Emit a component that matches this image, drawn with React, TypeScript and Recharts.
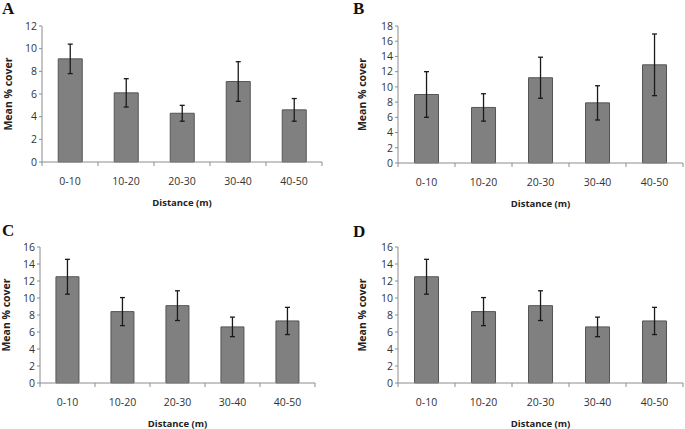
import React from 'react';
import { BarChart, Bar, XAxis, YAxis, ErrorBar, Label } from 'recharts';

const distances = ['0-10', '10-20', '20-30', '30-40', '40-50'];

const meanA = [9.1, 6.1, 4.3, 7.1, 4.6];
const errA = [1.3, 1.25, 0.7, 1.75, 1.0];
const ticksA = [0, 2, 4, 6, 8, 10, 12];

const meanB = [9.0, 7.3, 11.2, 7.9, 12.9];
const errB = [3.0, 1.8, 2.7, 2.25, 4.05];
const ticksB = [0, 2, 4, 6, 8, 10, 12, 14, 16, 18];

const meanC = [12.5, 8.4, 9.1, 6.6, 7.3];
const errC = [2.05, 1.65, 1.75, 1.15, 1.6];
const ticksC = [0, 2, 4, 6, 8, 10, 12, 14, 16];

const meanD = [12.5, 8.4, 9.1, 6.6, 7.3];
const errD = [2.05, 1.65, 1.75, 1.15, 1.6];
const ticksD = [0, 2, 4, 6, 8, 10, 12, 14, 16];

const AXIS = '#8c8c8c';
const FONT = '"Open Sans", sans-serif';

interface PanelProps {
    letter: string;
    means: number[];
    errs: number[];
    ticks: number[];
    left: number;
    top: number;
    width: number;
    height: number;
    plotLeft: number;
    plotRight: number;
    plotTop: number;
    plotBottom: number;
    yLabelX: number;
    letterX: number;
    letterY: number;
}

const Panel: React.FC<PanelProps> = (p) => {
    const data = distances.map((d, i) => ({ name: d, value: p.means[i], err: p.errs[i] }));
    const step = (p.plotRight - p.plotLeft) / distances.length;

    // Excel-style category axis: tick marks on the category boundaries
    const CatTick = (props: any) => {
        const { x, y, payload, index } = props;
        return (
            <g>
                <line x1={x - step / 2} y1={y - 8} x2={x - step / 2} y2={y - 4} stroke={AXIS} />
                {index === distances.length - 1 && (
                    <line x1={x + step / 2} y1={y - 8} x2={x + step / 2} y2={y - 4} stroke={AXIS} />
                )}
                <text x={x} y={y + 14.5} textAnchor="middle" fontSize={10.5} fontFamily={FONT} fill="#333">
                    {payload.value}
                </text>
            </g>
        );
    };

    return (
        <div style={{ position: 'absolute', left: p.left, top: p.top, width: p.width, height: p.height }}>
            <div
                style={{
                    position: 'absolute',
                    left: p.letterX,
                    top: p.letterY,
                    fontFamily: '"Liberation Serif", serif',
                    fontWeight: 'bold',
                    fontSize: 17,
                    lineHeight: '17px',
                    color: '#111',
                }}
            >
                {p.letter}
            </div>
            <BarChart
                width={p.width}
                height={p.height}
                data={data}
                barCategoryGap="29%"
                margin={{ top: p.plotTop, right: p.width - p.plotRight, left: 0, bottom: 0 }}
            >
                <XAxis
                    dataKey="name"
                    height={p.height - p.plotBottom}
                    stroke={AXIS}
                    tickLine={false}
                    tickSize={0}
                    tickMargin={8}
                    tick={<CatTick />}
                    interval={0}
                >
                    <Label
                        value="Distance (m)"
                        position="insideBottom"
                        offset={p.height - p.plotBottom - 44}
                        style={{ fontFamily: FONT, fontWeight: 'bold', fontSize: 9.5, fill: '#222' }}
                    />
                </XAxis>
                <YAxis
                    width={p.plotLeft}
                    domain={[0, p.ticks[p.ticks.length - 1]]}
                    ticks={p.ticks}
                    interval={0}
                    stroke={AXIS}
                    tickSize={3}
                    tickMargin={2}
                    tick={{ fontSize: 10.5, fontFamily: FONT, fill: '#333' }}
                >
                    <Label
                        value="Mean % cover"
                        angle={-90}
                        position="insideLeft"
                        offset={p.yLabelX}
                        style={{ textAnchor: 'middle', fontFamily: FONT, fontWeight: 'bold', fontSize: 10.5, fill: '#222' }}
                    />
                </YAxis>
                <Bar dataKey="value" fill="#808080" stroke="#555" strokeWidth={1} isAnimationActive={false}>
                    <ErrorBar dataKey="err" width={2.5} stroke="#1a1a1a" strokeWidth={1.3} isAnimationActive={false} />
                </Bar>
            </BarChart>
        </div>
    );
};

const App: React.FC = () => {
    return (
        <div style={{ position: 'absolute', left: 0, top: 0, width: 685, height: 429, background: '#fff' }}>
            <Panel
                letter="A" means={meanA} errs={errA} ticks={ticksA}
                left={0} top={0} width={340} height={215}
                plotLeft={42} plotRight={322} plotTop={26} plotBottom={162}
                yLabelX={8} letterX={2} letterY={0}
            />
            <Panel
                letter="B" means={meanB} errs={errB} ticks={ticksB}
                left={340} top={0} width={345} height={215}
                plotLeft={58} plotRight={343} plotTop={26} plotBottom={163}
                yLabelX={22} letterX={13} letterY={0}
            />
            <Panel
                letter="C" means={meanC} errs={errC} ticks={ticksC}
                left={0} top={215} width={340} height={214}
                plotLeft={40} plotRight={315} plotTop={32} plotBottom={168}
                yLabelX={6} letterX={2} letterY={7}
            />
            <Panel
                letter="D" means={meanD} errs={errD} ticks={ticksD}
                left={340} top={215} width={345} height={214}
                plotLeft={58} plotRight={343} plotTop={32} plotBottom={168}
                yLabelX={22} letterX={13} letterY={8}
            />
        </div>
    );
};

export default App;
